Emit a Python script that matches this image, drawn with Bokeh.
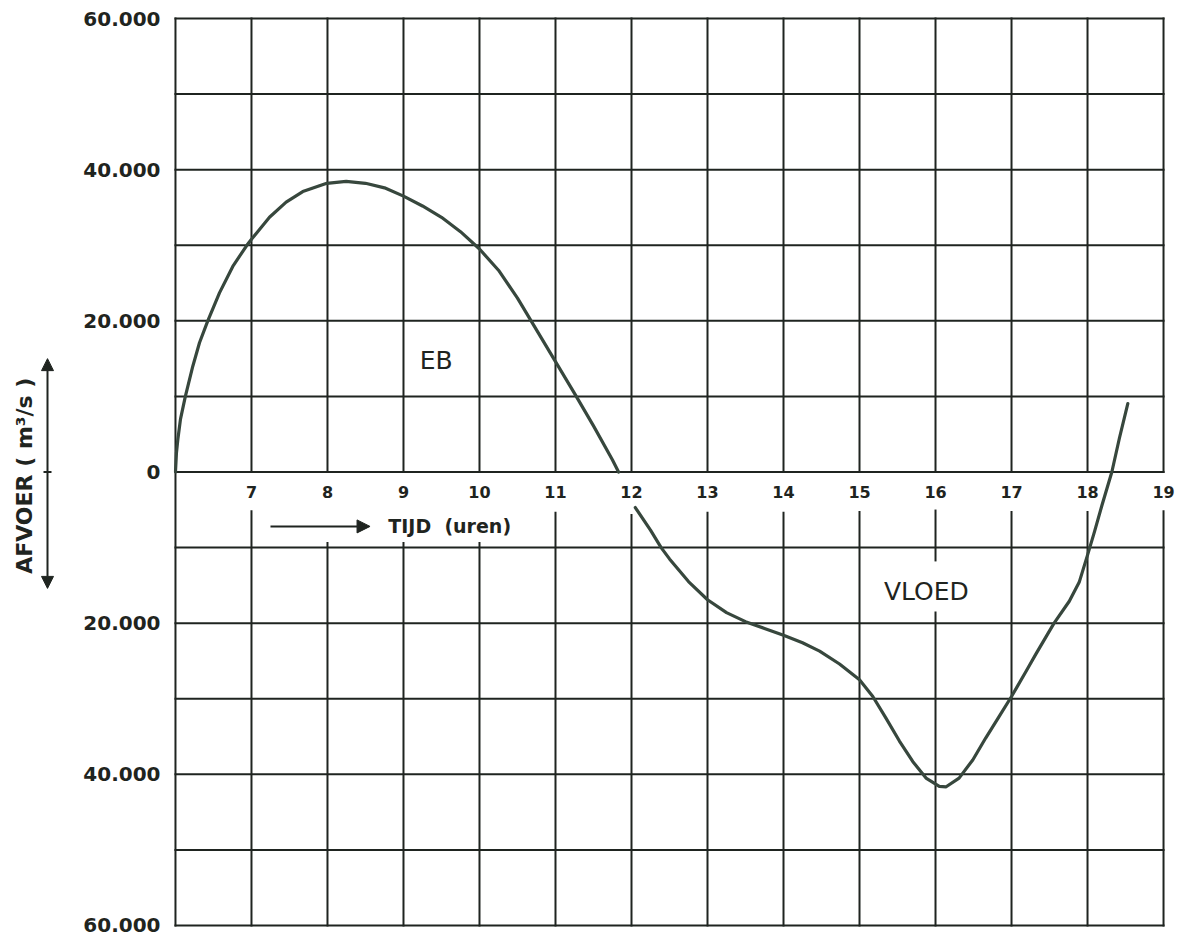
import math
from bokeh.plotting import figure
from bokeh.layouts import row
from bokeh.models import Range1d, FixedTicker, Arrow, NormalHead, Label, ColumnDataSource
from bokeh.core.properties import value
from bokeh.embed import file_html
from bokeh.resources import INLINE

# Discharge (m3/s) through the tidal cycle, time in hours of the day
ebb_hours = [6.0, 6.013, 6.031, 6.066, 6.13, 6.228, 6.316, 6.425, 6.579, 6.754,
             6.939, 7.0, 7.237, 7.456, 7.675, 7.991, 8.246, 8.5, 8.75, 9.0,
             9.25, 9.5, 9.75, 10.0, 10.25, 10.5, 10.75, 11.0, 11.25, 11.5,
             11.75, 11.83]
ebb_flow = [0, 2550, 4300, 7000, 10000, 14000, 17100, 20000, 23700, 27200,
            30000, 30800, 33700, 35700, 37100, 38200, 38450, 38200, 37600,
            36500, 35200, 33700, 31800, 29500, 26700, 23000, 18800, 14600,
            10400, 6100, 1600, 0]

flood_hours = [12.05, 12.25, 12.39, 12.5, 12.75, 13.0, 13.25, 13.5, 13.75, 14.0,
               14.25, 14.475, 14.737, 15.0, 15.175, 15.35, 15.525, 15.7, 15.875,
               16.05, 16.14, 16.31, 16.49, 16.66, 16.84, 17.0, 17.19, 17.32,
               17.56, 17.76, 17.89, 18.0, 18.09, 18.19, 18.32, 18.42, 18.53]
flood_flow = [-4700, -7700, -10000, -11500, -14500, -16900, -18600, -19800,
              -20700, -21600, -22600, -23700, -25400, -27500, -29700, -32600,
              -35600, -38300, -40500, -41600, -41650, -40500, -38100, -35200,
              -32300, -29700, -26400, -24100, -20000, -17100, -14600, -11000,
              -7950, -4400, 0, 4500, 9050]

# Axis ticks and their printed labels (negative values printed without sign)
hour_ticks = [7, 8, 9, 10, 11, 12, 13, 14, 15, 16, 17, 18, 19]
hour_labels = [str(h) for h in hour_ticks]
flow_ticks = [60000, 40000, 20000, 0, -20000, -40000, -60000]
flow_labels = ["60.000", "40.000", "20.000", "0", "20.000", "40.000", "60.000"]

INK = "#1f2420"
CURVE = "#37473d"
FONT = "DejaVu Sans"

y_range = Range1d(-60400, 60400)

# ---- narrow strip on the left: vertical caption with a double arrow ----
side = figure(width=70, height=936, x_range=Range1d(0, 70), y_range=y_range,
              output_backend="svg", toolbar_location=None,
              x_axis_location=None, y_axis_location=None,
              min_border_left=0, min_border_right=0, min_border_top=15,
              min_border_bottom=8, outline_line_color=None,
              background_fill_color="white", border_fill_color="white")
side.grid.visible = False
side.add_layout(Label(x=24, y=-500, text="AFVOER ( m³/s )", angle=math.pi / 2,
                      text_align="center", text_baseline="middle", text_font=FONT,
                      text_font_style="bold", text_font_size="22px",
                      text_color=INK))
side.add_layout(Arrow(start=NormalHead(size=12, fill_color=INK, line_color=INK),
                      end=NormalHead(size=12, fill_color=INK, line_color=INK),
                      x_start=47, y_start=-15400, x_end=47, y_end=15000,
                      line_color=INK, line_width=2))
side.segment(x0=[43], y0=[0], x1=[51], y1=[0], line_color=INK, line_width=2)

# ---- main chart ----
p = figure(width=1110, height=936,
           x_range=Range1d(5.974, 19.197), y_range=y_range,
           output_backend="svg", toolbar_location=None, x_axis_location=None,
           min_border_left=103, min_border_right=2, min_border_top=15,
           min_border_bottom=8, outline_line_color=None,
           background_fill_color="white", border_fill_color="white")
p.grid.visible = False

# horizontal rulings every 10.000 m3/s between 6 and 19 h
levels = list(range(-60000, 60001, 10000))
p.segment(x0=[6] * len(levels), y0=levels, x1=[19] * len(levels), y1=levels,
          line_color=INK, line_width=2, line_cap="square")

# vertical rulings, interrupted below the zero line where the labels sit
lower_start = {7: -5200, 8: -9400, 9: -9400, 10: -9400, 11: -5400, 12: -5700,
               13: -5400, 14: -5400, 15: -5300, 16: -5100, 17: -5300,
               18: -5300, 19: -5200}
x0, y0, x1, y1 = [6], [60000], [6], [-60000]
for h in hour_ticks:
    x0 += [h]; y0 += [60000]; x1 += [h]; y1 += [0]
    if h == 16:
        x0 += [h, h]; y0 += [lower_start[h], -18600]
        x1 += [h, h]; y1 += [-11700, -60000]
    else:
        x0 += [h]; y0 += [lower_start[h]]; x1 += [h]; y1 += [-60000]
p.segment(x0=x0, y0=y0, x1=x1, y1=y1, line_color=INK, line_width=2,
          line_cap="square")

# the discharge curve (pen lifted across the hour labels)
p.line(ebb_hours, ebb_flow, line_color=CURVE, line_width=3.2,
       line_join="round", line_cap="round")
p.line(flood_hours, flood_flow, line_color=CURVE, line_width=3.2,
       line_join="round", line_cap="round")

# hour labels just under the zero line
src = ColumnDataSource(dict(x=hour_ticks, y=[0] * len(hour_ticks), t=hour_labels))
p.text(x="x", y="y", text="t", source=src, text_align="center",
       text_baseline="middle", y_offset=20, text_font=value(FONT),
       text_font_style="bold", text_font_size="16px", text_color=INK)

# time axis caption with arrow
p.add_layout(Arrow(end=NormalHead(size=13, fill_color=INK, line_color=INK, line_width=1),
                   x_start=7.25, y_start=-7200, x_end=8.56, y_end=-7200,
                   line_color=INK, line_width=2))
p.add_layout(Label(x=8.8, y=-7200, text="TIJD\u00a0\u00a0(uren)", text_align="left",
                   text_baseline="middle", text_font=FONT, text_font_style="bold",
                   text_font_size="19px", text_color=INK))

# region names
p.add_layout(Label(x=9.43, y=14700, text="EB", text_align="center",
                   text_baseline="middle", text_font=FONT, text_font_size="25px",
                   text_color=INK))
p.add_layout(Label(x=15.88, y=-15800, text="VLOED", text_align="center",
                   text_baseline="middle", text_font=FONT, text_font_size="25px",
                   text_color=INK))

# discharge axis
ax = p.yaxis[0]
ax.ticker = FixedTicker(ticks=flow_ticks)
ax.major_label_overrides = dict(zip(flow_ticks, flow_labels))
ax.major_label_text_font = FONT
ax.major_label_text_font_style = "bold"
ax.major_label_text_font_size = "20px"
ax.major_label_text_color = INK
ax.major_label_standoff = 13
ax.major_tick_out = 0
ax.major_tick_in = 0
ax.minor_tick_out = 0
ax.minor_tick_in = 0
ax.axis_line_color = None

open("out.html", "w").write(file_html(row(side, p), INLINE))
